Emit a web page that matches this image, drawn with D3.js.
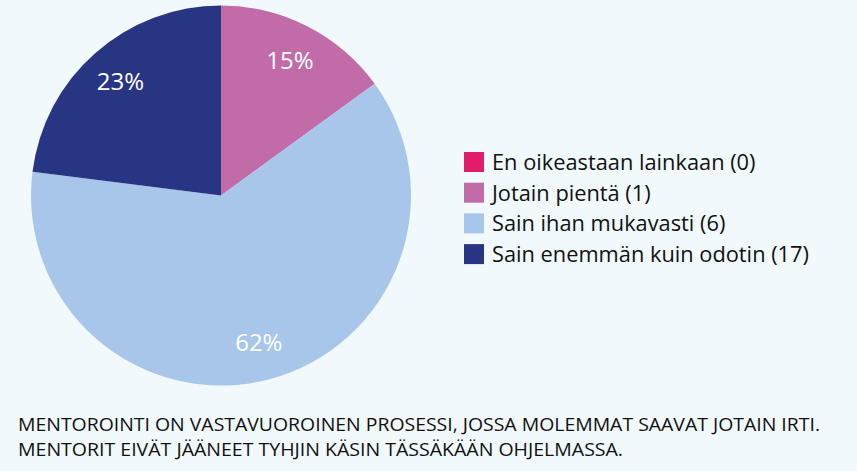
<!DOCTYPE html>
<html><head><meta charset="utf-8">
<script src="https://cdn.jsdelivr.net/npm/d3@7"></script>
<style>
html,body{margin:0;padding:0;background:#f1f9fd;}
svg{display:block;font-family:"Open Sans",sans-serif;}
</style></head>
<body>
<svg id="chart" width="857" height="471"></svg>
<script>
const categories = ["En oikeastaan lainkaan", "Jotain pientä", "Sain ihan mukavasti", "Sain enemmän kuin odotin"];
const counts = [0, 1, 6, 17];
const percents = [0, 15, 62, 23];
const colors = ["#e11d6c", "#c16ca8", "#a8c6e9", "#283583"];
const captionLines = [
  "MENTOROINTI ON VASTAVUOROINEN PROSESSI, JOSSA MOLEMMAT SAAVAT JOTAIN IRTI.",
  "MENTORIT EIVÄT JÄÄNEET TYHJIN KÄSIN TÄSSÄKÄÄN OHJELMASSA."
];

const svg = d3.select("#chart");
const W = 857, H = 471;
svg.append("rect").attr("width", W).attr("height", H).attr("fill", "#f1f9fd");

const cx = 221, cy = 195.5, r = 190;
const data = categories.map((c, i) => ({cat: c, count: counts[i], pct: percents[i], color: colors[i]}));
const pie = d3.pie().sort(null).value(d => d.pct);
const arcs = pie(data);
const arc = d3.arc().innerRadius(0).outerRadius(r);
const labelArc = d3.arc().innerRadius(r * 0.8).outerRadius(r * 0.8);

const g = svg.append("g").attr("transform", `translate(${cx},${cy})`);
g.selectAll("path.slice").data(arcs.filter(a => a.value > 0)).join("path")
  .attr("class", "slice")
  .attr("d", arc)
  .attr("fill", d => d.data.color);

g.selectAll("text.lbl").data(arcs.filter(a => a.value > 0)).join("text")
  .attr("class", "lbl")
  .attr("transform", d => `translate(${labelArc.centroid(d)})`)
  .attr("text-anchor", "middle")
  .attr("dy", "0.36em")
  .attr("fill", "#ffffff")
  .attr("font-size", 24)
  .text(d => d.data.pct + "%");

// Legend
const legend = svg.append("g").attr("transform", "translate(464,152)");
const rowH = 30.7;
const items = legend.selectAll("g").data(data).join("g")
  .attr("transform", (d, i) => `translate(0,${i * rowH})`);
items.append("rect").attr("width", 20).attr("height", 20).attr("fill", d => d.color);
items.append("text")
  .attr("x", 28).attr("y", 10).attr("dy", "0.36em")
  .attr("font-size", 21.8).attr("fill", "#111111")
  .text(d => `${d.cat} (${d.count})`);

// Caption
const capLens = [802, 605];
svg.selectAll("text.cap").data(captionLines).join("text")
  .attr("class", "cap")
  .attr("x", 18)
  .attr("y", (d, i) => 431 + i * 24.5)
  .attr("font-size", 19)
  .attr("fill", "#111111")
  .attr("textLength", (d, i) => capLens[i])
  .attr("lengthAdjust", "spacingAndGlyphs")
  .text(d => d);
</script>
</body></html>
